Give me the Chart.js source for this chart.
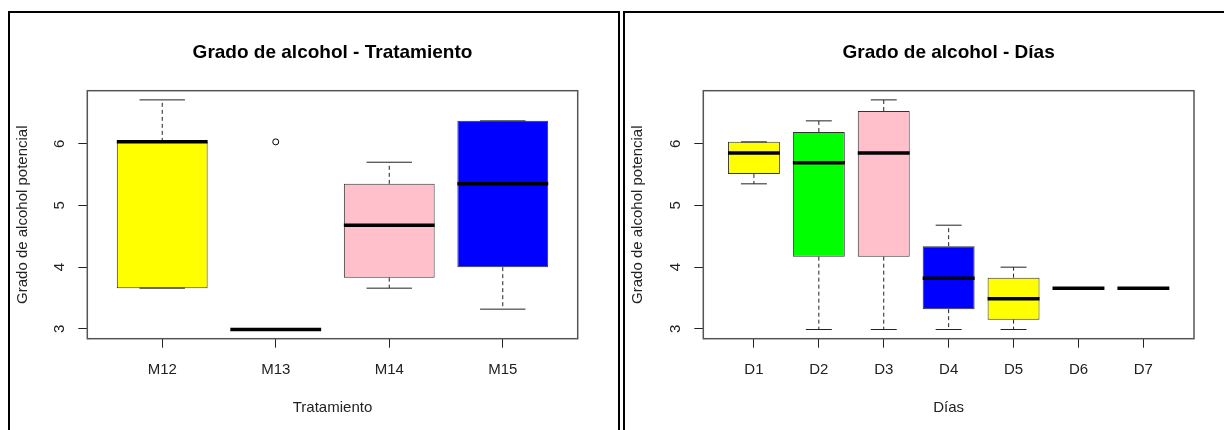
<!DOCTYPE html>
<html>
<head>
<meta charset="utf-8">
<script src="https://cdn.jsdelivr.net/npm/chart.js@4.4.1/dist/chart.umd.min.js"></script>
<style>
  body { margin: 0; background: #fff; width: 1224px; height: 430px; overflow: hidden; position: relative; }
  .panel { position: absolute; top: 11px; height: 430px; border: 2px solid #000; border-bottom: none; }
  #left { left: 8px; width: 608px; }
  #right { left: 623px; width: 620px; border-right: none; }
  canvas { position: absolute; left: 0; top: 0; }
</style>
</head>
<body>
<div class="panel" id="left"><canvas id="chartTrat" width="608" height="417"></canvas></div>
<div class="panel" id="right"><canvas id="chartDias" width="599" height="417"></canvas></div>
<script>
// --- data ---
const tratamientos = ['M12', 'M13', 'M14', 'M15'];
const tratMin = [3.66, 2.99, 3.66, 3.32];
const tratQ1 = [3.66, 2.99, 3.83, 4.00];
const tratMed = [6.03, 2.99, 4.68, 5.35];
const tratQ3 = [6.03, 2.99, 5.35, 6.37];
const tratMax = [6.71, 2.99, 5.70, 6.37];
const tratOutliers = [{ x: 2, y: 6.03 }]; // M13
const tratColors = ['#ffff00', '#00ff00', '#ffc0cb', '#0000ff'];

const dias = ['D1', 'D2', 'D3', 'D4', 'D5', 'D6', 'D7'];
const diasMin = [5.35, 2.99, 2.99, 2.99, 2.99, 3.66, 3.66];
const diasQ1 = [5.51, 4.17, 4.17, 3.32, 3.15, 3.66, 3.66];
const diasMed = [5.85, 5.69, 5.85, 3.82, 3.49, 3.66, 3.66];
const diasQ3 = [6.03, 6.19, 6.53, 4.34, 3.83, 3.66, 3.66];
const diasMax = [6.03, 6.37, 6.71, 4.68, 4.00, 3.66, 3.66];
const diasOutliers = [];
const diasColors = ['#ffff00', '#00ff00', '#ffc0cb', '#0000ff', '#ffff00', '#00ff00', '#ffc0cb'];

const yTicks = [3, 4, 5, 6];

Chart.defaults.font.family = "'Liberation Sans', Arial, sans-serif";
Chart.defaults.color = '#222';

// whiskers, staples, medians and the plot frame, like R's boxplot()
const boxExtras = {
  id: 'boxExtras',
  afterDatasetsDraw(chart, args, opts) {
    const { ctx, chartArea, scales: { x, y } } = chart;
    const bars = chart.getDatasetMeta(0).data;
    const line = (x1, y1, x2, y2) => { ctx.beginPath(); ctx.moveTo(x1, y1); ctx.lineTo(x2, y2); ctx.stroke(); };
    ctx.save();
    opts.med.forEach((m, i) => {
      const cx = x.getPixelForValue(i + 1);
      const half = bars[i].width / 2;
      const yMin = y.getPixelForValue(opts.min[i]);
      const yMax = y.getPixelForValue(opts.max[i]);
      ctx.strokeStyle = '#222';
      ctx.lineWidth = 1;
      ctx.setLineDash([4, 3]);
      line(cx, y.getPixelForValue(opts.q3[i]), cx, yMax);
      line(cx, y.getPixelForValue(opts.q1[i]), cx, yMin);
      ctx.setLineDash([]);
      line(cx - half / 2, yMax, cx + half / 2, yMax);
      line(cx - half / 2, yMin, cx + half / 2, yMin);
      ctx.strokeStyle = '#000';
      ctx.lineWidth = 3.5;
      const ym = y.getPixelForValue(m);
      line(cx - half, ym, cx + half, ym);
    });
    ctx.strokeStyle = '#555';
    ctx.lineWidth = 1.5;
    ctx.strokeRect(chartArea.left, chartArea.top, chartArea.width, chartArea.height);
    ctx.restore();
  }
};

function makeBoxplot(id, cats, mins, q1, med, q3, maxs, outliers, colors, mainTitle, xTitle, padRight, yAxisWidth) {
  const all = mins.concat(maxs, outliers.map(p => p.y));
  const lo = Math.min(...all), hi = Math.max(...all);
  const ext = (hi - lo) * 0.04;
  const xExt = cats.length * 0.04;

  return new Chart(document.getElementById(id), {
    type: 'bar',
    data: {
      datasets: [{
        type: 'bar',
        xAxisID: 'x',
        data: cats.map((c, i) => ({ x: i + 1, y: [q1[i], q3[i]] })),
        backgroundColor: colors,
        borderColor: '#333',
        borderWidth: 1,
        borderSkipped: false,
        barPercentage: 0.8,
        categoryPercentage: 1
      }, {
        type: 'scatter',
        xAxisID: 'x',
        data: outliers,
        pointRadius: 3,
        pointBackgroundColor: '#fff',
        pointBorderColor: '#000',
        pointBorderWidth: 1
      }]
    },
    options: {
      responsive: false,
      animation: false,
      layout: { padding: { left: 0, top: 0, right: padRight, bottom: 0 } },
      plugins: {
        legend: { display: false },
        tooltip: { enabled: false },
        boxExtras: { min: mins, q1: q1, med: med, q3: q3, max: maxs }
      },
      scales: {
        x: {
          type: 'linear',
          position: 'bottom',
          offset: false,
          min: 0.5 - xExt,
          max: cats.length + 0.5 + xExt,
          afterBuildTicks: s => { s.ticks = cats.map((c, i) => ({ value: i + 1 })); },
          afterFit: s => { s.height = 91.3; },
          grid: { offset: false, drawOnChartArea: false, tickLength: 9, color: '#222' },
          border: { display: false },
          ticks: { callback: v => cats[v - 1], autoSkip: false, maxRotation: 0, padding: 13, font: { size: 15 } },
          title: { display: true, text: xTitle, font: { size: 15 }, padding: { top: 0, bottom: 13 } }
        },
        top: {
          type: 'linear',
          position: 'top',
          min: 0,
          max: 1,
          afterFit: s => { s.height = 77.7; },
          grid: { display: false },
          border: { display: false },
          ticks: { display: false },
          title: { display: true, text: mainTitle, color: '#000', font: { size: 19, weight: 'bold' }, padding: { top: 28.6, bottom: 0 } }
        },
        y: {
          min: lo - ext,
          max: hi + ext,
          afterBuildTicks: s => { s.ticks = yTicks.map(v => ({ value: v })); },
          afterFit: s => { s.width = yAxisWidth; },
          grid: { drawOnChartArea: false, tickLength: 9, color: '#222' },
          border: { display: false },
          ticks: { minRotation: 90, maxRotation: 90, crossAlign: 'center', padding: 14, font: { size: 15 } },
          title: { display: true, text: 'Grado de alcohol potencial', font: { size: 15 }, padding: { top: 3.5, bottom: 0 } }
        }
      }
    },
    plugins: [boxExtras]
  });
}

makeBoxplot('chartTrat', tratamientos, tratMin, tratQ1, tratMed, tratQ3, tratMax, tratOutliers, tratColors,
  'Grado de alcohol - Tratamiento', 'Tratamiento', 40.3, 77.3);
makeBoxplot('chartDias', dias, diasMin, diasQ1, diasMed, diasQ3, diasMax, diasOutliers, diasColors,
  'Grado de alcohol - Días', 'Días', 30, 78.3);
</script>
</body>
</html>
